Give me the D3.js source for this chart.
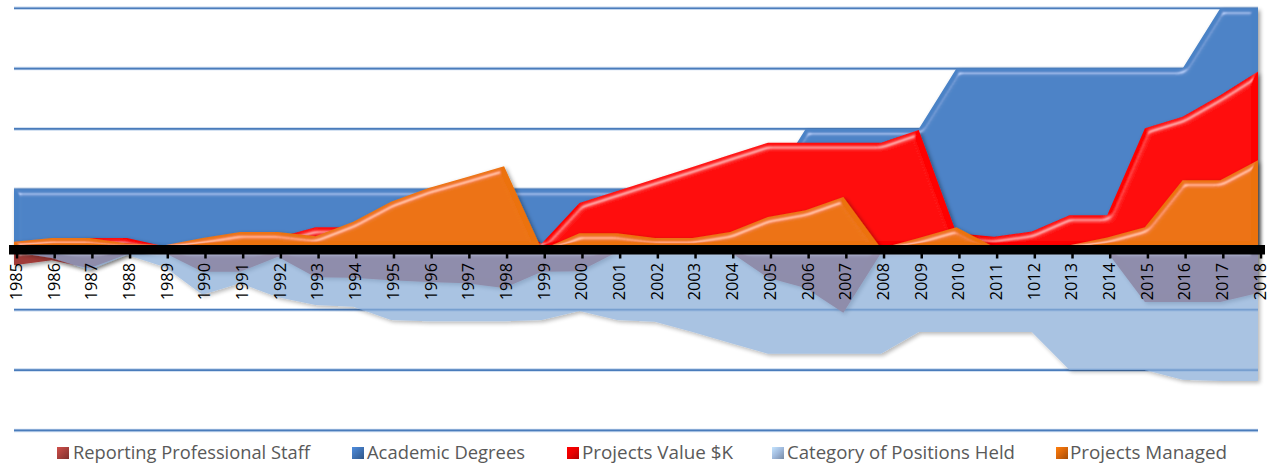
<!DOCTYPE html>
<html><head><meta charset="utf-8">
<script src="https://cdn.jsdelivr.net/npm/d3@7"></script>
<style>body{margin:0;background:#fff}svg{display:block}</style>
</head><body>
<svg id="chart" width="1271" height="466"></svg>
<script>
// ---- data (values in chart units; one gridline = 1 unit) ----
const years = [1985,1986,1987,1988,1989,1990,1991,1992,1993,1994,1995,1996,1997,1998,1999,2000,2001,2002,2003,2004,2005,2006,2007,2008,2009,2010,2011,2012,2013,2014,2015,2016,2017,2018];
const yearLabels = ["1985","1986","1987","1988","1989","1990","1991","1992","1993","1994","1995","1996","1997","1998","1999","2000","2001","2002","2003","2004","2005","2006","2007","2008","2009","2010","2011","1012","2013","2014","2015","2016","2017","2018"];
const reportingStaff = [-0.26,-0.18,-0.31,-0.08,-0.06,-0.37,-0.37,-0.12,-0.46,-0.47,-0.51,-0.54,-0.56,-0.64,-0.37,-0.36,-0.04,-0.04,-0.04,-0.04,-0.47,-0.64,-1.05,-0.06,-0.04,-0.04,-0.04,-0.04,-0.04,-0.04,-0.87,-0.87,-0.87,-0.72];
const academicDegrees = [1,1,1,1,1,1,1,1,1,1,1,1,1,1,1,1,1,1,1,1,1,2,2,2,2,3,3,3,3,3,3,3,4,4];
const projectsValue = [0.05,0.14,0.19,0.19,0.05,0.09,0.15,0.2,0.37,0.37,0.4,0.42,0.44,0.45,0.1,0.77,0.97,1.17,1.37,1.57,1.77,1.77,1.77,1.77,1.98,0.27,0.21,0.3,0.57,0.57,2.01,2.2,2.56,2.95];
const positionsHeld = [-0.04,-0.14,-0.34,-0.09,-0.29,-0.75,-0.56,-0.79,-0.92,-0.95,-1.17,-1.19,-1.19,-1.19,-1.17,-1.02,-1.17,-1.2,-1.37,-1.55,-1.73,-1.73,-1.73,-1.73,-1.37,-1.37,-1.37,-1.37,-2.0,-2.0,-2.0,-2.16,-2.18,-2.18];
const projectsManaged = [0.13,0.19,0.19,0.1,0.07,0.19,0.29,0.29,0.22,0.46,0.79,1.02,1.2,1.38,0.0,0.27,0.27,0.19,0.19,0.29,0.54,0.65,0.87,0.02,0.19,0.37,0.04,0.04,0.07,0.2,0.37,1.15,1.15,1.48];
const seriesNames = ["Reporting Professional Staff","Academic Degrees","Projects Value $K","Category of Positions Held","Projects Managed"];
const gridValues = [-3,-2,-1,1,2,3,4];

// ---- setup ----
const svg = d3.select("#chart");
const x = d3.scalePoint().domain(years).range([14,1258]);
const y = d3.scaleLinear().domain([-3,4]).range([430.4,8.3]);

const defs = svg.append("defs");
function bevel(id, spec, blur, k3){
  const f = defs.append("filter").attr("id",id).attr("x","-3%").attr("y","-10%").attr("width","106%").attr("height","130%");
  f.append("feGaussianBlur").attr("in","SourceAlpha").attr("stdDeviation",blur).attr("result","b");
  const s = f.append("feSpecularLighting").attr("in","b").attr("surfaceScale",5).attr("specularConstant",spec)
    .attr("specularExponent",40).attr("lighting-color","#ffffff").attr("result","s");
  s.append("feDistantLight").attr("azimuth",250).attr("elevation",40);
  f.append("feComposite").attr("in","s").attr("in2","SourceAlpha").attr("operator","in").attr("result","so");
  f.append("feComposite").attr("in","SourceGraphic").attr("in2","so").attr("operator","arithmetic")
    .attr("k1",0).attr("k2",1).attr("k3",k3).attr("k4",0).attr("result","lit");
  f.append("feGaussianBlur").attr("in","SourceAlpha").attr("stdDeviation",2).attr("result","sb");
  f.append("feOffset").attr("in","sb").attr("dx",2).attr("dy",2).attr("result","sh");
  f.append("feFlood").attr("flood-color","#000").attr("flood-opacity",0.4).attr("result","fl");
  f.append("feComposite").attr("in","fl").attr("in2","sh").attr("operator","in").attr("result","shadow");
  const m = f.append("feMerge");
  m.append("feMergeNode").attr("in","shadow");
  m.append("feMergeNode").attr("in","lit");
}
bevel("bev",0.7,3,0.45);

// gridlines
const grid = svg.append("g");
gridValues.forEach(v=>{
  grid.append("line").attr("x1",14).attr("x2",1258).attr("y1",y(v)).attr("y2",y(v))
    .attr("stroke","#c5d7ee").attr("stroke-width",3.5);
  grid.append("line").attr("x1",14).attr("x2",1258).attr("y1",y(v)).attr("y2",y(v))
    .attr("stroke","#4a7cbb").attr("stroke-width",1.6);
});

const area = d3.area().x((d,i)=>x(years[i])).y0(y(0)).y1(d=>y(d));

function drawArea(data, color, opacity){
  const g = svg.append("g").attr("opacity",opacity);
  g.append("path").attr("d",area(data)).attr("fill",color).attr("filter","url(#bev)");
}
drawArea(reportingStaff,"#a03a37",1);
drawArea(academicDegrees,"#4a82c6",1);
drawArea(projectsValue,"#ff0000",1);
drawArea(positionsHeld,"#88acd8",0.72);
drawArea(projectsManaged,"#ec7208",1);

// zero line
svg.append("rect").attr("x",9).attr("y",y(0)-4.5).attr("width",1256).attr("height",9.5).attr("fill","#000");
// ticks
svg.append("g").selectAll("line").data(years).join("line")
  .attr("x1",d=>x(d)+3).attr("x2",d=>x(d)+3).attr("y1",y(0)+4).attr("y2",y(0)+9)
  .attr("stroke","#000").attr("stroke-width",2.5);
// labels
svg.append("g").selectAll("text").data(years).join("text")
  .attr("transform",(d)=>`translate(${x(d)+2},263) rotate(-90)`)
  .attr("text-anchor","end").attr("dy","0.36em")
  .attr("font-family","'Open Sans', sans-serif").attr("font-size",16.3).attr("fill","#000")
  .text((d,i)=>yearLabels[i]);

// legend
const legendColors = ["#a8403c","#3f72b4","#e80000","#9fb9dc","#d8660a"];
const legendSquareX = [57,352,567,772,1056];
const legendTextX = [73,367,582,787,1070];
const legendTextW = [237,158,151,228,157];
const lg = svg.append("g");
seriesNames.forEach((n,i)=>{
  const gid = "lg"+i;
  const gr = defs.append("linearGradient").attr("id",gid).attr("x1",0).attr("y1",0).attr("x2",1).attr("y2",1);
  gr.append("stop").attr("offset","0%").attr("stop-color",d3.color(legendColors[i]).brighter(0.6));
  gr.append("stop").attr("offset","50%").attr("stop-color",legendColors[i]);
  gr.append("stop").attr("offset","100%").attr("stop-color",d3.color(legendColors[i]).darker(0.8));
  lg.append("rect").attr("x",legendSquareX[i]).attr("y",447).attr("width",12).attr("height",12).attr("fill",`url(#${gid})`);
  lg.append("text").attr("x",legendTextX[i]).attr("y",458.5).attr("font-family","'Open Sans', sans-serif")
    .attr("font-size",18.5).attr("fill","#595959").attr("textLength",legendTextW[i]).attr("lengthAdjust","spacingAndGlyphs").text(n);
});
</script>
</body></html>
